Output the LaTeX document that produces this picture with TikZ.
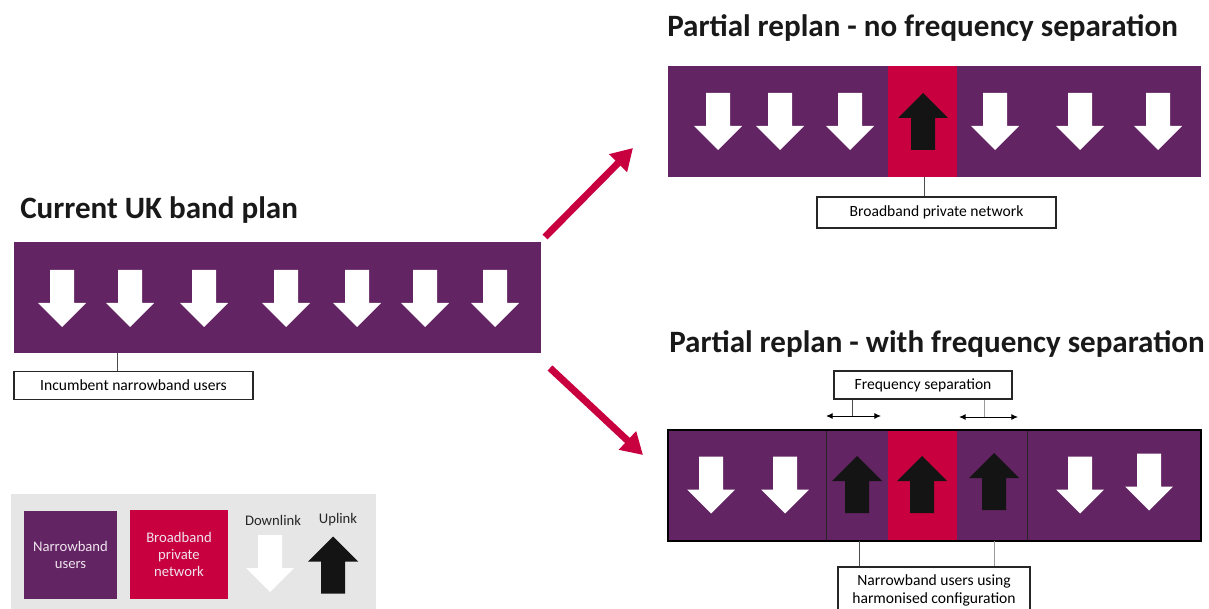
\documentclass[tikz,border=0pt]{standalone}
\usepackage{fontspec}
\setmainfont{Carlito}
\usetikzlibrary{arrows.meta}
\definecolor{nbpurple}{RGB}{98,36,98}
\definecolor{bbred}{RGB}{200,0,64}
\definecolor{upblack}{RGB}{20,20,20}
\definecolor{leggray}{RGB}{231,230,230}
\definecolor{legtext}{RGB}{240,228,238}
\tikzset{
  dnarrow/.pic={\fill[white] (-12,-28.5) -- (12,-28.5) -- (12,4.5) -- (24,4.5) -- (0,28.5) -- (-24,4.5) -- (-12,4.5) -- cycle;},
  uparrow/.pic={\fill[upblack] (0,-28.5) -- (25,-3.5) -- (12,-3.5) -- (12,28.5) -- (-12,28.5) -- (-12,-3.5) -- (-25,-3.5) -- cycle;},
  labelbox/.style={draw=black!85, line width=0.8pt, fill=white, inner sep=0pt, align=center, font=\fontsize{11.7}{13}\selectfont},
  titletext/.style={font=\fontsize{23.3}{27}\selectfont\bfseries, anchor=base west, inner sep=0pt, text=black!90},
  redarrow/.style={draw=bbred, line width=5.25pt, -{Triangle[length=16pt,width=18pt]}},
  leader/.style={draw=black!70, line width=0.75pt},
  leaderlight/.style={draw=black!40, line width=0.75pt},
  sepline/.style={draw=black, line width=0.75pt, {Latex[length=5pt,width=4.5pt]}-{Latex[length=5pt,width=4.5pt]}},
  legtxt/.style={align=center, inner sep=0pt, font=\fontsize{11}{13}\selectfont},
}
\begin{document}
\begin{tikzpicture}[x=0.75pt,y=-0.75pt]
\useasboundingbox (0,0) rectangle (1209,609);

% ---------- Titles ----------
\node[titletext] (t1) at (20,219) {Current UK band plan};
\node[titletext] (t2) at (667,37) {Partial replan - no frequency separation};
\node[titletext] (t3) at (669,353) {Partial replan - with frequency separation};

% ---------- Current band ----------
\fill[nbpurple] (14,242) rectangle (541,353);
\foreach \cx in {62,130,204,286,357,425,495} \pic at (\cx,298.5) {dnarrow};
\node[labelbox, minimum width=179.25pt, minimum height=21pt] (lab1) at (133.5,385.5) {Incumbent narrowband users};
\coordinate (c1) at (117,353);
\draw[leader] (c1) -- (c1 |- lab1.north);

% ---------- Red arrows ----------
\coordinate (r1s) at (545,237);
\coordinate (r1e) at (633,148);
\coordinate (r2s) at (550,368);
\coordinate (r2e) at (643,455);
\draw[redarrow] (r1s) -- (r1e);
\draw[redarrow] (r2s) -- (r2e);

% ---------- Partial replan - no separation ----------
\fill[nbpurple] (668,66) rectangle (1201,177);
\fill[bbred] (888,66) rectangle (957,177);
\foreach \cx in {718,780,850,995,1080,1158} \pic at (\cx,121.5) {dnarrow};
\pic at (923,121.5) {uparrow};
\node[labelbox, minimum width=179.25pt, minimum height=23.25pt] (lab2) at (936.5,212.5) {Broadband private network};
\coordinate (c2) at (924,177);
\draw[leader] (c2) -- (c2 |- lab2.north);

% ---------- Partial replan - with separation ----------
\fill[nbpurple] (668,430) rectangle (1201,541);
\fill[bbred] (888,430) rectangle (957,541);
\draw[black!85, line width=0.75pt] (826,430) -- (826,541);
\draw[black!85, line width=0.75pt] (1027,430) -- (1027,541);
\draw[black, line width=1.1pt] (668,430) rectangle (1201,541);
\foreach \cx/\cy in {711/485,785/485,1080/485,1149/482} \pic at (\cx,\cy) {dnarrow};
\foreach \cx/\cy in {857/484.5,922/484.5,994/481.5} \pic at (\cx,\cy) {uparrow};

\node[labelbox, minimum width=133.5pt, minimum height=21pt] (lab3) at (923,385) {Frequency separation};
\coordinate (s1l) at (826,416);
\coordinate (s1r) at (881,416);
\coordinate (s2l) at (959,417);
\coordinate (s2r) at (1018,417);
\draw[sepline] (s1l) -- (s1r);
\draw[sepline] (s2l) -- (s2r);
\coordinate (f1) at (852,416);
\coordinate (f2) at (984,417);
\draw[leader] (f1 |- lab3.south) -- (f1);
\draw[leaderlight] (f2 |- lab3.south) -- (f2);

\node[labelbox, minimum width=144pt, minimum height=35.25pt] (lab4) at (934,590.5) {Narrowband users using\\harmonised configuration};
\coordinate (h1) at (859,541);
\coordinate (h2) at (994,541);
\draw[leader] (h1) -- (h1 |- lab4.north);
\draw[leaderlight] (h2) -- (h2 |- lab4.north);

% ---------- Legend ----------
\fill[leggray] (11,494) rectangle (376,612);
\node[fill=nbpurple, minimum width=69.75pt, minimum height=66pt, inner sep=0pt] (lg1) at (70.5,555) {};
\node[legtxt, text=legtext] (lg1t) at (lg1.center) {Narrowband\\users};
\node[fill=bbred, minimum width=73.5pt, minimum height=66.75pt, inner sep=0pt] (lg2) at (179,554.5) {};
\node[legtxt, text=legtext] (lg2t) at (lg2.center) {Broadband\\private\\network};
\node[legtxt, text=black!85] (lg3) at (273,520) {Downlink};
\node[legtxt, text=black!85] (lg4) at (338,520) {Uplink};
\pic at (270,563.5) {dnarrow};
\pic at (333,565) {uparrow};
\end{tikzpicture}
\end{document}
